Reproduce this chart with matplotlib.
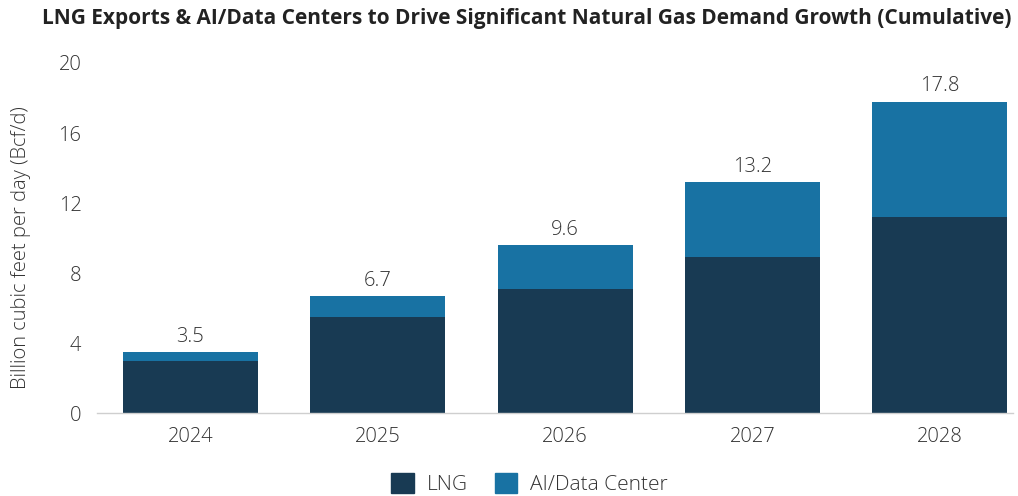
import numpy as np
import matplotlib.pyplot as plt
from matplotlib.patches import Patch

# data
years = ['2024', '2025', '2026', '2027', '2028']
lng = [3.0, 5.5, 7.1, 8.9, 11.2]
ai_dc = [0.5, 1.2, 2.5, 4.3, 6.6]
totals = [3.5, 6.7, 9.6, 13.2, 17.8]

navy = '#183a53'
blue = '#1872a3'
txt = '#333333'

plt.rcParams['font.family'] = ['Open Sans', 'DejaVu Sans']

fig = plt.figure(figsize=(10.18, 4.96), dpi=100)
ax = fig.add_axes([0.095, 0.167, 0.9, 0.706])

x = np.arange(len(years))
ax.bar(x, lng, width=0.72, color=navy, label='LNG')
ax.bar(x, ai_dc, width=0.72, bottom=lng, color=blue, label='AI/Data Center')

for xi, t in zip(x, totals):
    ax.text(xi, t + 0.3, f'{t:.1f}', ha='center', va='bottom',
            fontsize=14.5, color=txt, fontweight='light')

ax.set_ylim(0, 20)
ax.set_xlim(-0.5, 4.39)
ax.set_yticks([0, 4, 8, 12, 16, 20])
ax.set_xticks(x)
ax.set_xticklabels(years)
ax.tick_params(length=0, labelsize=14.5, labelcolor=txt, pad=10)
ax.tick_params(axis='y', pad=11)
for lbl in ax.get_xticklabels() + ax.get_yticklabels():
    lbl.set_fontweight('light')

for s in ['top', 'right', 'left']:
    ax.spines[s].set_visible(False)
ax.spines['bottom'].set_color('#cfcfcf')
ax.spines['bottom'].set_linewidth(1)

fig.text(0.021, 0.5, 'Billion cubic feet per day (Bcf/d)', rotation=90,
         ha='center', va='center', fontsize=14.5, color=txt, fontweight='light')

fig.text(0.517, 0.962, 'LNG Exports & AI/Data Centers to Drive Significant Natural Gas Demand Growth (Cumulative)',
         ha='center', va='center', fontsize=15, fontweight='bold', color='#222222')

handles = [Patch(color=navy, label='LNG'), Patch(color=blue, label='AI/Data Center')]
leg = fig.legend(handles=handles, loc='center', bbox_to_anchor=(0.52, 0.025),
                 ncol=2, frameon=False, fontsize=15, handlelength=1.1,
                 handleheight=1.1, columnspacing=1.3, handletextpad=0.6)
for t in leg.get_texts():
    t.set_color(txt)
    t.set_fontweight('light')

plt.savefig('out.png', dpi=100)
